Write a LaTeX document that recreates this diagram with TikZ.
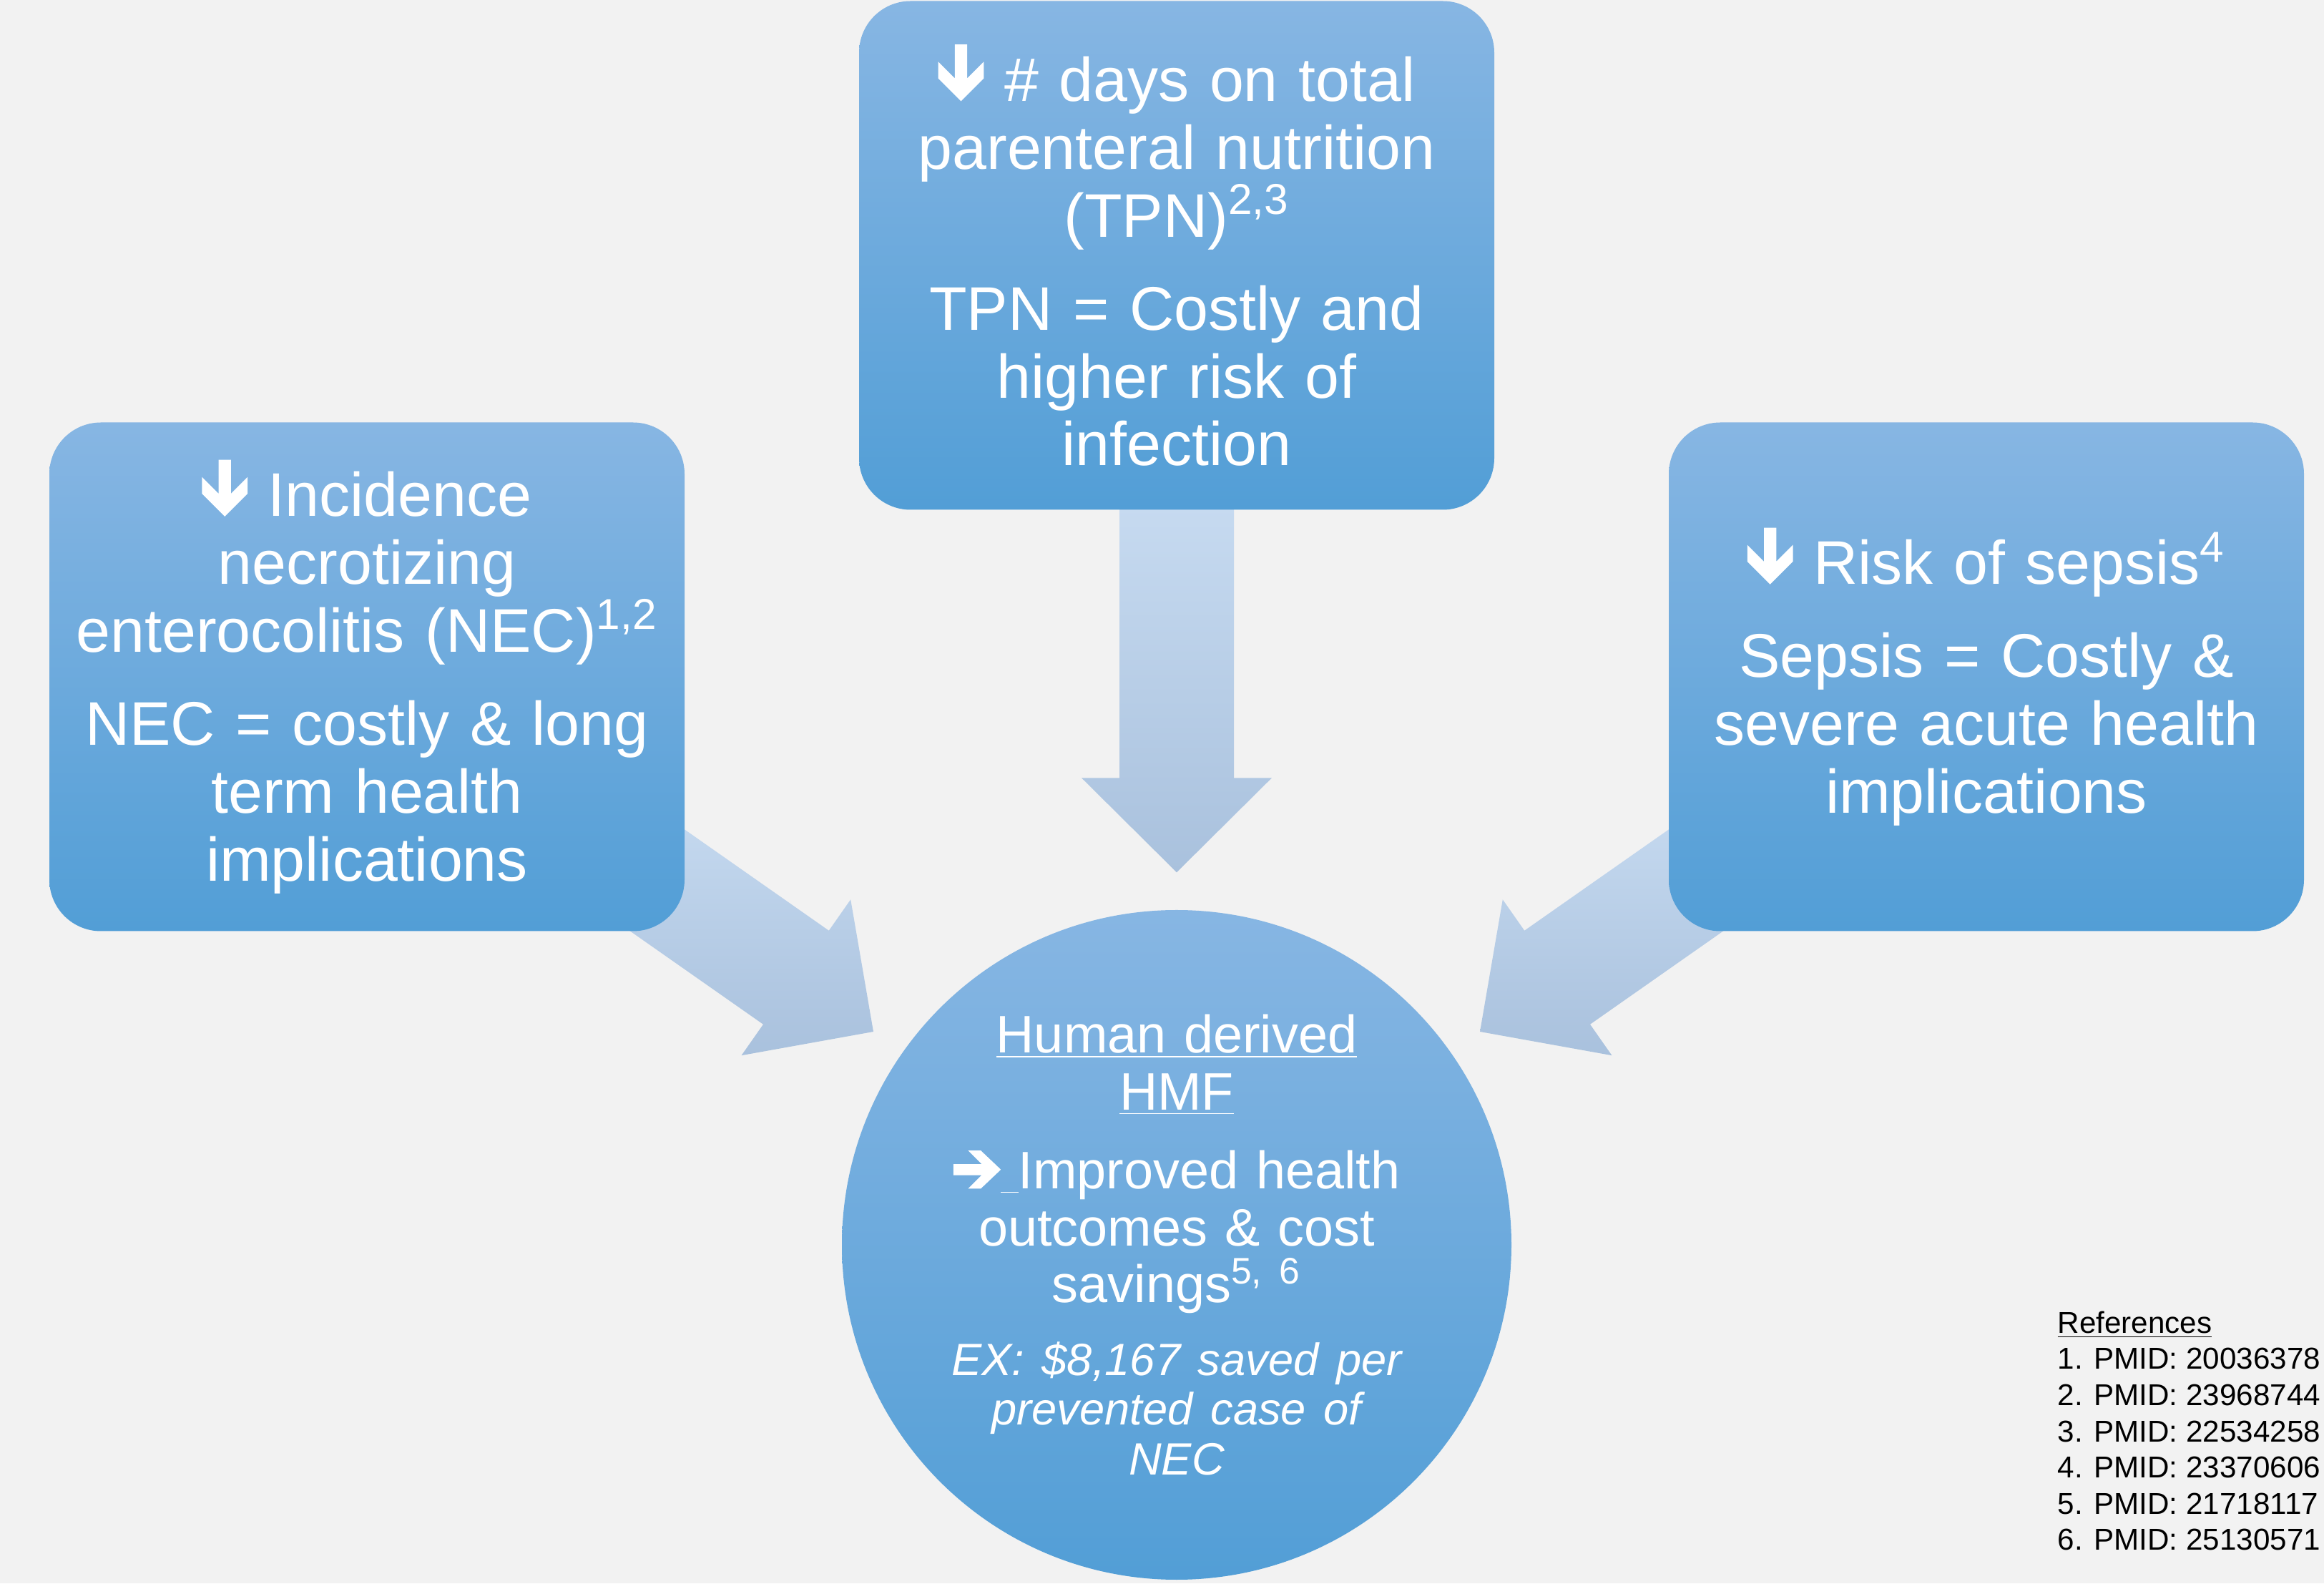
\documentclass[tikz,border=0pt]{standalone}
\usepackage{fontspec}
\setmainfont{Liberation Sans}
\usetikzlibrary{calc}
\pgfdeclarelayer{bg}
\pgfsetlayers{bg,main}

\definecolor{pagebg}{RGB}{242,242,242}
\definecolor{boxtop}{RGB}{135,182,227}
\definecolor{boxbot}{RGB}{82,158,214}
\definecolor{arrtop}{RGB}{218,235,253}
\definecolor{arrbot}{RGB}{169,193,221}

% thick arrow marks inside the texts
\newcommand{\dnarrow}{\tikz[x=1em,y=1em,baseline=0pt,sharp corners]\fill[white] (0.37,0) -- (0.74,0.37) -- (0.74,0.64) -- (0.47,0.37) -- (0.47,0.92) -- (0.27,0.92) -- (0.27,0.37) -- (0,0.64) -- (0,0.37) -- cycle;}
\newcommand{\rtarrow}{\tikz[x=1em,y=1em,baseline=0pt,sharp corners]\fill[white] (0.9,0.36) -- (0.52,0.72) -- (0.28,0.72) -- (0.535,0.465) -- (0,0.465) -- (0,0.255) -- (0.535,0.255) -- (0.28,0) -- (0.52,0) -- cycle;}
\newcommand{\fatarrow}[2]{%
  \path[bigarrow] let \p1=(#1), \p2=(#2), \n1={atan2(\y2-\y1,\x2-\x1)} in
    (\p2) -- ($(\p2)+({\n1+180}:1.32)+({\n1+90}:1.33)$)
    -- ($(\p2)+({\n1+180}:1.32)+({\n1+90}:0.8)$)
    -- ($(\p1)+({\n1+90}:0.8)$)
    -- ($(\p1)+({\n1-90}:0.8)$)
    -- ($(\p2)+({\n1+180}:1.32)+({\n1-90}:0.8)$)
    -- ($(\p2)+({\n1+180}:1.32)+({\n1-90}:1.33)$) -- cycle;
}

\begin{document}
\begin{tikzpicture}[
    box/.style={rectangle, rounded corners=0.72cm, minimum width=8.88cm, minimum height=7.11cm,
        inner sep=0pt, text width=8.6cm, align=center, text=white,
        top color=boxtop, bottom color=boxbot, font=\fontsize{24.5}{27}\selectfont},
    hub/.style={circle, minimum size=9.36cm, inner sep=0pt, top color=boxtop, bottom color=boxbot},
    hubtext/.style={inner sep=0pt, text width=7cm, align=center, text=white,
        font=\fontsize{21}{22.7}\selectfont},
    reflist/.style={inner sep=0pt, align=left, text=black, font=\fontsize{12}{14.4}\selectfont},
    bigarrow/.style={top color=arrtop, bottom color=arrbot, draw=none},
]
    \useasboundingbox (0,0) rectangle (32.49,22.13);

    \node[box] (tpn) at (16.45,18.56) {\dnarrow{} \# days on total\\ parenteral nutrition\\ (TPN)\textsuperscript{2,3}\\[10pt] TPN = Costly and\\ higher risk of\\ infection};
    \node[box] (nec) at (5.13,12.67) {\dnarrow{} Incidence\\ necrotizing\\ enterocolitis (NEC)\textsuperscript{1,2}\\[10pt] NEC = costly \& long\\ term health\\ implications};
    \node[box] (sepsis) at (27.77,12.67) {\dnarrow{} Risk of sepsis\textsuperscript{4}\\[10pt] Sepsis = Costly \&\\ severe acute health\\ implications};

    \node[hub] (hmf) at (16.45,4.73) {};
    \node[hubtext] (hmftext) at (hmf.center) {\underline{Human derived}\\ \underline{HMF}\\[8.6pt] \rtarrow\underline{\ }Improved health\\ outcomes \& cost\\ savings\textsuperscript{5, 6}\par\vspace{9pt}
        {\fontsize{18}{19.8}\selectfont\itshape EX: \$8,167 saved per\\ prevented case of\\ NEC\par}};

    \node[reflist, anchor=north west] (refs) at (28.76,3.81) {\underline{References}\\ 1. PMID: 20036378\\ 2. PMID: 23968744\\ 3. PMID: 22534258\\ 4. PMID: 23370606\\ 5. PMID: 21718117\\ 6. PMID: 25130571};

    \coordinate (tipT) at ($(hmf.north)+(0,0.52)$);
    \coordinate (tipL) at ($(hmf.center)+(-4.24,2.98)$);
    \coordinate (tipR) at ($(hmf.center)+(4.24,2.98)$);

    \begin{pgfonlayer}{bg}
        \fill[pagebg] (0,0) rectangle (32.49,22.13);
        \fatarrow{tpn.center}{tipT}
        \fatarrow{nec.center}{tipL}
        \fatarrow{sepsis.center}{tipR}
    \end{pgfonlayer}
\end{tikzpicture}
\end{document}
